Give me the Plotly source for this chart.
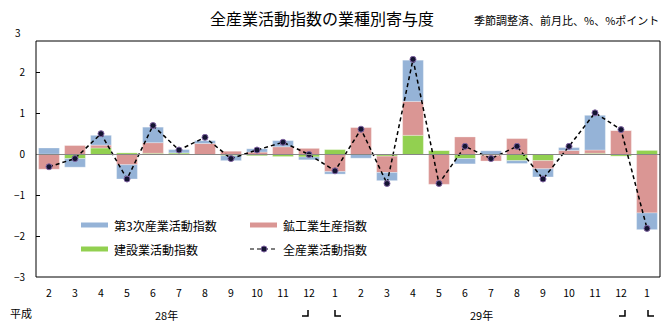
import plotly.graph_objects as go

months = ["2", "3", "4", "5", "6", "7", "8", "9", "10", "11", "12",
          "1", "2", "3", "4", "5", "6", "7", "8", "9", "10", "11", "12", "1"]
construction = [0.01, -0.10, 0.16, 0.04, 0.03, 0.04, 0.00, -0.03, -0.03, -0.05, -0.06, 0.12,
                0.00, -0.04, 0.47, 0.10, -0.10, -0.02, -0.15, -0.15, -0.01, 0.03, -0.04, 0.10]
mining = [-0.36, 0.22, 0.07, -0.25, 0.26, 0.00, 0.27, 0.08, 0.06, 0.19, 0.15, -0.42,
          0.66, -0.40, 0.83, -0.73, 0.43, -0.14, 0.39, -0.20, 0.10, 0.08, 0.59, -1.43]
tertiary = [0.15, -0.21, 0.24, -0.35, 0.38, 0.08, 0.07, -0.12, 0.08, 0.15, -0.07, -0.06,
            -0.09, -0.20, 1.01, 0.00, -0.13, 0.09, -0.07, -0.20, 0.07, 0.85, 0.00, -0.41]
total = [-0.30, -0.10, 0.51, -0.60, 0.71, 0.11, 0.42, -0.10, 0.11, 0.30, 0.00, -0.40,
         0.62, -0.71, 2.33, -0.71, 0.20, -0.10, 0.20, -0.60, 0.20, 1.02, 0.61, -1.81]
y_ticks = [-3, -2, -1, 0, 1, 2]

names = ["第3次産業活動指数", "鉱工業生産指数", "建設業活動指数", "全産業活動指数"]
C_BLUE, C_RED, C_GREEN = "#95B3D7", "#DA9694", "#92D050"
FONT = "Noto Sans CJK JP"

x = list(range(len(months)))
fig = go.Figure()
for vals, col, nm in [(construction, C_GREEN, names[2]), (mining, C_RED, names[1]), (tertiary, C_BLUE, names[0])]:
    fig.add_trace(go.Bar(x=x, y=vals, name=nm, marker=dict(color=col, line=dict(width=0.5, color="rgba(255,255,255,0.6)")),
                         showlegend=False))
fig.add_trace(go.Scatter(x=x, y=total, name=names[3], mode="lines+markers",
                         line=dict(color="black", width=1.5, dash="4px,3px"),
                         marker=dict(color="#141432", size=6, line=dict(color="#8064A2", width=1)),
                         showlegend=False))

W, H = 670, 328
L, R, T, B = 36, 10, 41, 51
pw, ph = W - L - R, H - T - B

def px(xp):
    return (xp - L) / pw

def py(yp):
    return (H - B - yp) / ph

shapes = [
    dict(type="line", xref="paper", yref="y", x0=0, x1=1, y0=0, y1=0, line=dict(color="#868686", width=1), layer="above"),
    dict(type="rect", xref="paper", yref="paper", x0=0, x1=1, y0=0, y1=1, line=dict(color="black", width=1)),
]
annotations = []
# legend
leg = [(81, 225, C_BLUE, names[0]), (250, 225, C_RED, names[1]), (81, 249, C_GREEN, names[2])]
for lx, ly, col, nm in leg:
    shapes.append(dict(type="rect", xref="paper", yref="paper", x0=px(lx), x1=px(lx + 27),
                       y0=py(ly + 2.5), y1=py(ly - 2.5), fillcolor=col, line=dict(width=0)))
    annotations.append(dict(xref="paper", yref="paper", x=px(lx + 31), y=py(ly), text=nm, showarrow=False,
                            xanchor="left", yanchor="middle", font=dict(size=12, color="black", family=FONT)))
shapes.append(dict(type="line", xref="paper", yref="paper", x0=px(250), x1=px(278), y0=py(249), y1=py(249),
                   line=dict(color="black", width=1.2, dash="4px,3px")))
shapes.append(dict(type="circle", xref="paper", yref="paper", x0=px(261), x1=px(267), y0=py(252), y1=py(246),
                   fillcolor="#141432", line=dict(color="#8064A2", width=1)))
annotations.append(dict(xref="paper", yref="paper", x=px(281), y=py(249), text=names[3], showarrow=False,
                        xanchor="left", yanchor="middle", font=dict(size=12, color="black", family=FONT)))
# titles
annotations.append(dict(xref="paper", yref="paper", x=px(322), y=py(18), text="全産業活動指数の業種別寄与度",
                        showarrow=False, xanchor="center", yanchor="middle", font=dict(size=16, color="black", family=FONT)))
annotations.append(dict(xref="paper", yref="paper", x=px(661), y=py(20), text="季節調整済、前月比、%、%ポイント",
                        showarrow=False, xanchor="right", yanchor="middle", font=dict(size=11, color="black", family=FONT)))
annotations.append(dict(xref="paper", yref="paper", x=px(23), y=py(32), text="3", showarrow=False,
                        xanchor="right", yanchor="middle", font=dict(size=10, color="black", family=FONT)))
# era / years
annotations.append(dict(xref="paper", yref="paper", x=px(21), y=py(313), text="平成", showarrow=False,
                        xanchor="center", yanchor="middle", font=dict(size=11, color="black", family=FONT)))
annotations.append(dict(xref="paper", yref="paper", x=px(166), y=py(315), text="28年", showarrow=False,
                        xanchor="center", yanchor="middle", font=dict(size=11, color="black", family=FONT)))
annotations.append(dict(xref="paper", yref="paper", x=px(481), y=py(315), text="29年", showarrow=False,
                        xanchor="center", yanchor="middle", font=dict(size=11, color="black", family=FONT)))
# year boundary brackets
for bx, kind in [(305, "end"), (338, "start"), (622, "end"), (651, "start")]:
    if kind == "end":
        path = f"M {px(bx-3)},{py(316)} L {px(bx+3)},{py(316)} L {px(bx+3)},{py(310)}"
    else:
        path = f"M {px(bx-3)},{py(310)} L {px(bx-3)},{py(316)} L {px(bx+3)},{py(316)}"
    shapes.append(dict(type="path", xref="paper", yref="paper", path=path, line=dict(color="black", width=1.5)))

fig.update_layout(
    width=W, height=H, margin=dict(l=L, r=R, t=T, b=B),
    paper_bgcolor="white", plot_bgcolor="white",
    barmode="relative", bargap=0.2,
    font=dict(family=FONT, size=10, color="black"),
    shapes=shapes, annotations=annotations,
    xaxis=dict(range=[-0.5, len(months) - 0.5], tickmode="array", tickvals=x, ticktext=months,
               showgrid=False, zeroline=False, showline=False, ticks="", ticklabelstandoff=8,
               tickfont=dict(size=10.5, family=FONT)),
    yaxis=dict(range=[-3, 2.78], tickvals=y_ticks, showgrid=False, zeroline=False,
               showline=False, ticks="inside", ticklen=4, tickcolor="black",
               ticklabelstandoff=10, tickfont=dict(size=10, family=FONT)),
)
fig.write_html("out.html")
